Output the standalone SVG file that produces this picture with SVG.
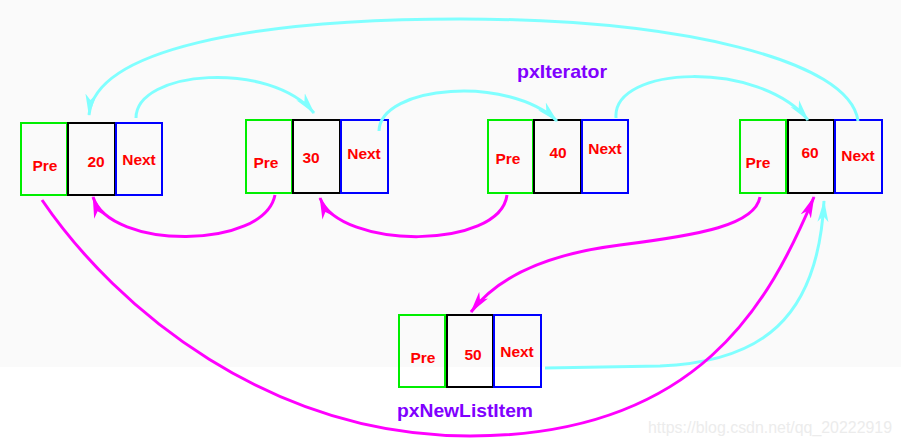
<svg xmlns="http://www.w3.org/2000/svg" width="901" height="445" viewBox="0 0 901 445">
<defs>
<style>
.pre{fill:none;stroke:#00ee00;stroke-width:2}
.dat{fill:none;stroke:#000;stroke-width:2}
.nxt{fill:none;stroke:#0000ff;stroke-width:2}
.t{font-family:"Liberation Sans",Arial,sans-serif;font-size:15.5px;font-weight:bold;fill:#ff0000;text-anchor:middle}
.lbl{font-family:"Liberation Sans",Arial,sans-serif;font-weight:bold;fill:#8000ff}
.cy{fill:none;stroke:#80ffff;stroke-width:3;marker-end:url(#ac)}
.mg{fill:none;stroke:#ff00ff;stroke-width:3;marker-end:url(#am)}
</style>
<marker id="ac" viewBox="0 0 22 12" markerWidth="22" markerHeight="12" refX="21" refY="6" orient="auto" markerUnits="userSpaceOnUse"><path d="M0,0.5 L22,6 L0,11.5 L6,6 Z" fill="#80ffff"/></marker>
<marker id="am" viewBox="0 0 22 12" markerWidth="22" markerHeight="12" refX="21" refY="6" orient="auto" markerUnits="userSpaceOnUse"><path d="M0,0.5 L22,6 L0,11.5 L6,6 Z" fill="#ff00ff"/></marker>
</defs>
<rect x="0" y="0" width="901" height="445" fill="#ffffff"/>
<rect x="0" y="0" width="901" height="367" fill="#fafafa"/>

<g id="node20">
<rect class="pre" x="21" y="123" width="46" height="72"/>
<rect class="dat" x="68" y="123" width="47" height="72"/>
<rect class="nxt" x="116" y="123" width="46" height="72"/>
<text class="t" x="45" y="171">Pre</text>
<text class="t" x="96" y="167">20</text>
<text class="t" x="139" y="165">Next</text>
</g>
<g id="node30">
<rect class="pre" x="246" y="120" width="46" height="73"/>
<rect class="dat" x="293" y="120" width="47" height="73"/>
<rect class="nxt" x="341" y="120" width="47" height="73"/>
<text class="t" x="266" y="168">Pre</text>
<text class="t" x="311" y="163">30</text>
<text class="t" x="364" y="159">Next</text>
</g>
<g id="node40">
<rect class="pre" x="488" y="120" width="45" height="73"/>
<rect class="dat" x="534" y="120" width="47" height="73"/>
<rect class="nxt" x="582" y="120" width="46" height="73"/>
<text class="t" x="508" y="164">Pre</text>
<text class="t" x="558" y="158">40</text>
<text class="t" x="605" y="154">Next</text>
</g>
<g id="node60">
<rect class="pre" x="740" y="120" width="46" height="73"/>
<rect class="dat" x="788" y="120" width="46" height="73"/>
<rect class="nxt" x="835" y="120" width="47" height="73"/>
<text class="t" x="758" y="168">Pre</text>
<text class="t" x="810" y="158">60</text>
<text class="t" x="858" y="161">Next</text>
</g>
<g id="node50">
<rect class="pre" x="399" y="315" width="46" height="72"/>
<rect class="dat" x="447" y="315" width="46" height="72"/>
<rect class="nxt" x="494" y="315" width="47" height="72"/>
<text class="t" x="423" y="363">Pre</text>
<text class="t" x="473" y="360">50</text>
<text class="t" x="517" y="357">Next</text>
</g>

<g id="connectors">
<path class="cy" d="M858,121 C850,60 680,19 460,19 C250,19 95,50 89,115"/>
<path class="cy" d="M136,118 C136,70 270,60 314,113"/>
<path class="cy" d="M379,131 C380,85 510,75 557,121"/>
<path class="cy" d="M616,118 C612,65 760,60 808,120"/>
<path class="cy" d="M545,368 L660,366 C760,362 818,320 824,201"/>
<path class="mg" d="M275,195 C264,250 110,250 93,197"/>
<path class="mg" d="M507,195 C500,250 340,250 320,198"/>
<path class="mg" d="M760,197 C755,225 700,235 620,245 C540,255 495,280 471,312"/>
<path class="mg" d="M42,200 C117,310 270,436 470,436 C700,436 770,301 814,197"/>
</g>

<text class="lbl" x="517" y="78" font-size="19" textLength="90" lengthAdjust="spacingAndGlyphs">pxIterator</text>
<text class="lbl" x="397" y="417" font-size="18" textLength="136" lengthAdjust="spacingAndGlyphs">pxNewListItem</text>
<text x="648" y="433" font-family="Liberation Sans, Arial, sans-serif" font-size="16" fill="#ececec" textLength="244" lengthAdjust="spacingAndGlyphs">https://blog.csdn.net/qq_20222919</text>
</svg>
